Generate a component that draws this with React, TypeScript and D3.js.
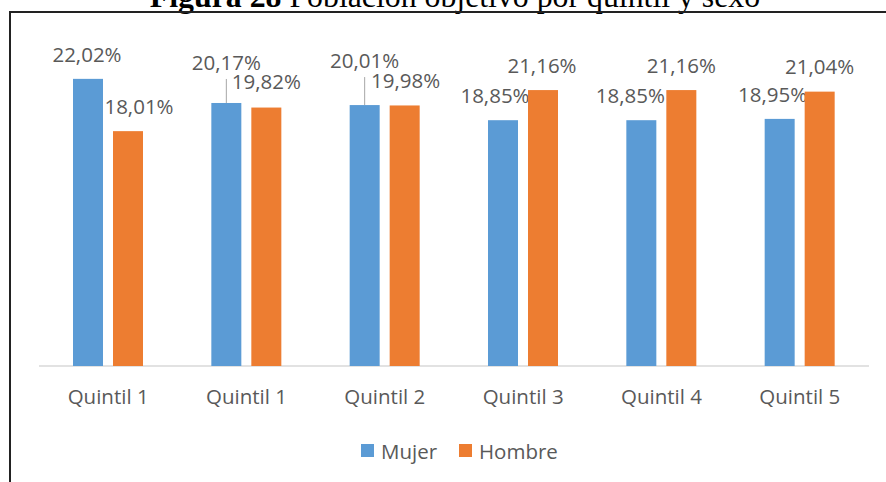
import React from 'react'
import * as d3 from 'd3'

// datos de la figura
const categories = ['Quintil 1', 'Quintil 1', 'Quintil 2', 'Quintil 3', 'Quintil 4', 'Quintil 5']
const series = ['Mujer', 'Hombre']
const mujer = [22.02, 20.17, 20.01, 18.85, 18.85, 18.95]
const hombre = [18.01, 19.82, 19.98, 21.16, 21.16, 21.04]
const colors = ['#5b9bd5', '#ed7d31']

// desplazamiento manual de las etiquetas (como en Excel) [dx, dy]
const shiftMujer = [[-1, 0], [0, -16], [0, -20], [-8, 0], [-11, 0], [-7, 0]]
const shiftHombre = [[11, 0], [0, -2], [1, 0], [-1, 0], [0, 0], [0, -1]]

const W = 886
const H = 482
const font = '"Open Sans", sans-serif'
const gray = '#595959'

const fmt = (v: number) => d3.format('.2f')(v).replace('.', ',') + '%'

export default function App() {
	const x0 = d3.scaleBand<number>().domain(categories.map((_, i) => i)).range([39, 869])
	const x1 = d3.scaleBand<string>().domain(series).range([34, 104]).paddingInner(0.25)
	const y = d3.scaleLinear().domain([0, 25]).range([366, 40])
	const values = [mujer, hombre]
	const shifts = [shiftMujer, shiftHombre]

	return (
		<svg width={W} height={H} style={{ position: 'absolute', left: 0, top: 0 }} fontFamily={font}>
			<rect width={W} height={H} fill="#fff" />
			{/* titulo, cortado arriba */}
			<text x={455} y={7} textAnchor="middle" fontFamily='"Liberation Serif", "Times New Roman", serif' fontSize={31.8} fill="#000">
				<tspan fontWeight="bold">Figura 28</tspan> Población objetivo por quintil y sexo
			</text>
			{/* marco */}
			<line x1={10} x2={W} y1={12} y2={12} stroke="#222" strokeWidth={1.8} />
			<line x1={10} x2={10} y1={11} y2={H} stroke="#222" strokeWidth={2} />

			<line x1={39} x2={869} y1={y(0)} y2={y(0)} stroke="#d9d9d9" strokeWidth={1.5} />

			{categories.map((c, i) => (
				<g key={i} transform={`translate(${x0(i)},0)`}>
					{series.map((s, k) => {
						const v = values[k][i]
						const bx = x1(s)!
						const cx = bx + x1.bandwidth() / 2
						const [dx, dy] = shifts[k][i]
						const ly = y(v) - 17 + dy
						return (
							<g key={s}>
								<rect x={bx} y={y(v)} width={x1.bandwidth()} height={y(0) - y(v)} fill={colors[k]} />
								{dy < -10 && (
									<line x1={cx} x2={cx} y1={ly + 9} y2={y(v)} stroke="#a6a6a6" strokeWidth={1} />
								)}
								<text x={cx + dx} y={ly} textAnchor="middle" fontSize={20.5} fill={gray}>
									{fmt(v)}
								</text>
							</g>
						)
					})}
					<text x={x0.bandwidth() / 2} y={404} textAnchor="middle" fontSize={20.5} fill={gray}>
						{c}
					</text>
				</g>
			))}

			{/* leyenda */}
			{series.map((s, k) => {
				const lx = [361, 459][k]
				return (
					<g key={s}>
						<rect x={lx} y={444} width={13} height={13} fill={colors[k]} />
						<text x={lx + 20} y={459} fontSize={20.5} fill={gray}>{s}</text>
					</g>
				)
			})}
		</svg>
	)
}
